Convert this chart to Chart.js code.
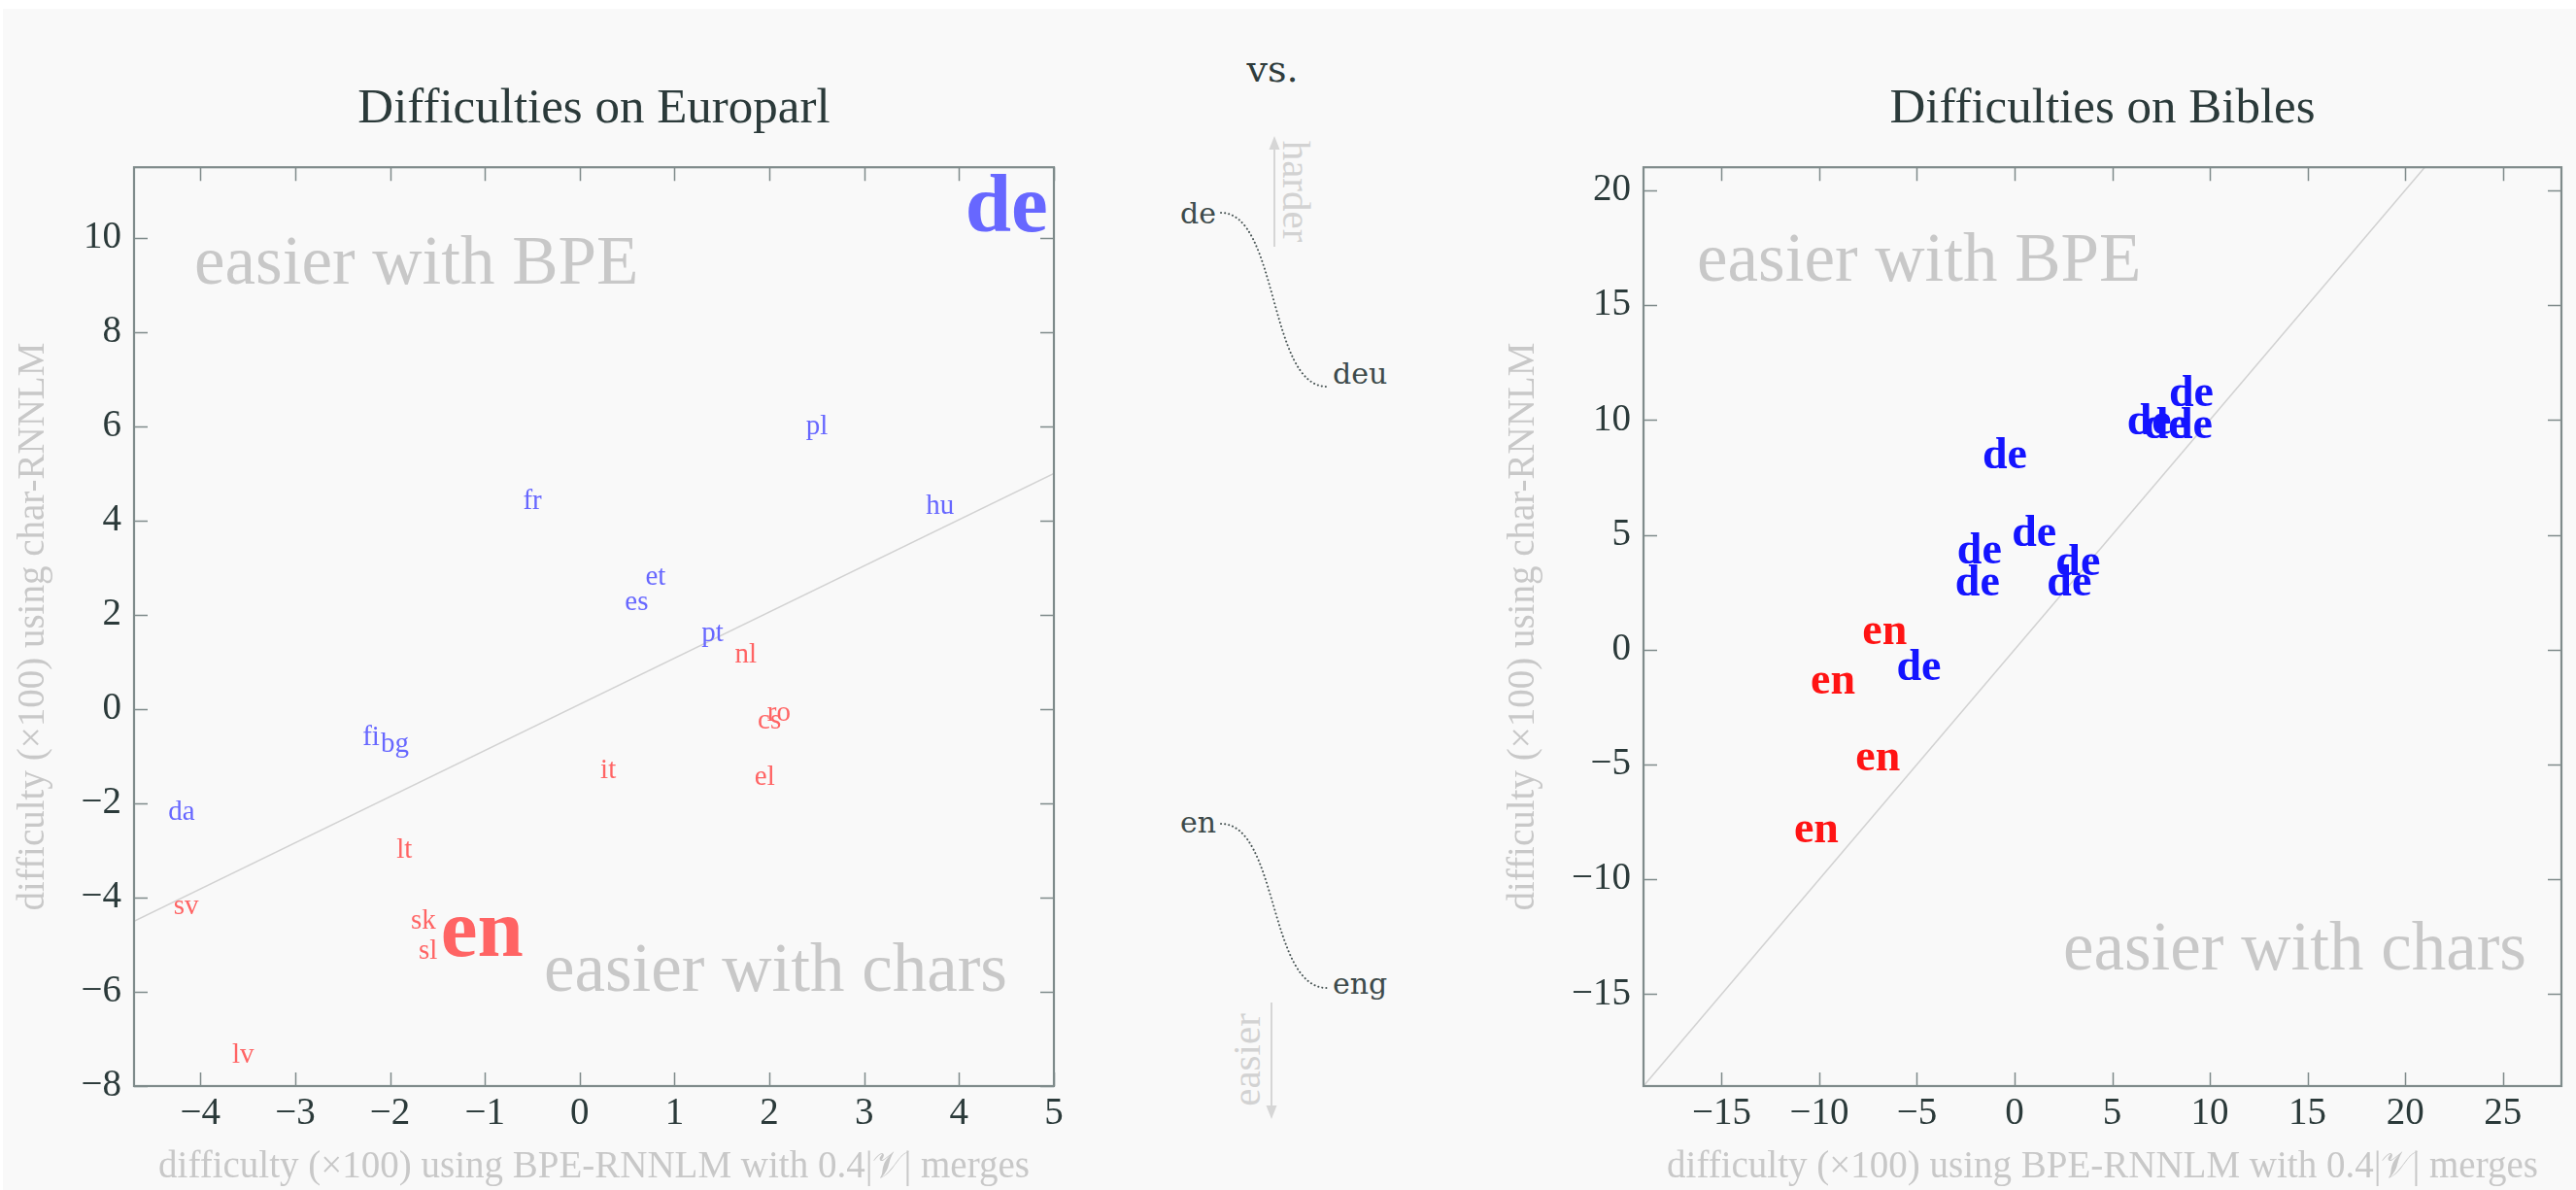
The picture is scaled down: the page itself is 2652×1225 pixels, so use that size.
<!DOCTYPE html>
<html>
<head>
<meta charset="utf-8">
<script src="https://cdn.jsdelivr.net/npm/chart.js@4.4.0/dist/chart.umd.min.js"></script>
<style>
  html, body { margin: 0; padding: 0; background: #fff; }
  body { width: 2652px; height: 1225px; position: relative; overflow: hidden; }
  #bg { position: absolute; left: 3px; top: 9px; right: 0; bottom: 0; background: #f9f9f9; }
  #leftWrap { position: absolute; left: 0; top: 0; width: 1130px; height: 1225px; }
  #rightWrap { position: absolute; left: 1534px; top: 0; width: 1118px; height: 1225px; }
  #mid { position: absolute; left: 1130px; top: 0; }
</style>
</head>
<body>
<div id="bg"></div>
<div id="leftWrap"><canvas id="europarl" width="1130" height="1225"></canvas></div>
<svg id="mid" width="404" height="1225" viewBox="1130 0 404 1225">
  <text x="1310" y="84" text-anchor="middle" font-family="DejaVu Serif" font-size="38" fill="#2f3c3c">vs.</text>
  <!-- harder arrow -->
  <line x1="1312" y1="254" x2="1312" y2="152" stroke="#d6d6d6" stroke-width="2"/>
  <polygon points="1312,140 1306.5,154 1317.5,154" fill="#d6d6d6"/>
  <text transform="translate(1335,197) rotate(90)" text-anchor="middle" dominant-baseline="central" font-family="Liberation Serif" font-size="41" fill="#d2d2d2">harder</text>
  <!-- easier arrow -->
  <line x1="1309" y1="1032" x2="1309" y2="1140" stroke="#d6d6d6" stroke-width="2"/>
  <polygon points="1309,1152 1303.5,1138 1314.5,1138" fill="#d6d6d6"/>
  <text transform="translate(1283,1091) rotate(-90)" text-anchor="middle" dominant-baseline="central" font-family="Liberation Serif" font-size="41" fill="#d2d2d2">easier</text>
  <!-- de / deu -->
  <text x="1252" y="230" text-anchor="end" font-family="DejaVu Serif" font-size="30" fill="#3d4a4a">de</text>
  <path d="M1257,219 C1316,219 1306,398 1366,398" fill="none" stroke="#4a5656" stroke-width="2" stroke-dasharray="0.1 4" stroke-linecap="round"/>
  <text x="1372" y="395" font-family="DejaVu Serif" font-size="30" fill="#3d4a4a">deu</text>
  <!-- en / eng -->
  <text x="1252" y="857" text-anchor="end" font-family="DejaVu Serif" font-size="30" fill="#3d4a4a">en</text>
  <path d="M1257,848 C1316,848 1306,1017 1366,1017" fill="none" stroke="#4a5656" stroke-width="2" stroke-dasharray="0.1 4" stroke-linecap="round"/>
  <text x="1372" y="1023" font-family="DejaVu Serif" font-size="30" fill="#3d4a4a">eng</text>
</svg>
<div id="rightWrap"><canvas id="bibles" width="1118" height="1225"></canvas></div>

<script>
// ---- Europarl: difficulty (x100) per language ----
const europarlLangs = ['de', 'pl', 'hu', 'fr', 'et', 'es', 'pt', 'nl', 'ro', 'cs', 'fi', 'bg', 'it', 'el', 'da', 'lt', 'sv', 'sk', 'sl', 'en', 'lv'];
const europarlBpe   = [4.5, 2.5, 3.8, -0.5, 0.8, 0.6, 1.4, 1.75, 2.1, 2.0, -2.2, -1.95, 0.3, 1.95, -4.2, -1.85, -4.15, -1.65, -1.6, -1.03, -3.55];
const europarlChar  = [10.6, 6.0, 4.3, 4.4, 2.8, 2.25, 1.6, 1.15, -0.1, -0.25, -0.6, -0.75, -1.3, -1.45, -2.2, -3.0, -4.2, -4.5, -5.15, -4.78, -7.35];
const highlighted   = ['de', 'en'];
// reference line drawn across the Europarl panel
const europarlLineBpe  = [-4.7, 5];
const europarlLineChar = [-4.5, 5];

// ---- Bibles: several translations each ----
const bibleLangs = ['de', 'de', 'de', 'de', 'de', 'de', 'de', 'de', 'de', 'de', 'de', 'en', 'en', 'en', 'en'];
const bibleBpe   = [9.05, 6.9, 7.75, 9.0, -0.5, 1.0, -1.8, 3.25, -1.9, 2.8, -4.9, -6.65, -9.3, -7.0, -10.15];
const bibleChar  = [11.1, 9.9, 9.7, 9.7, 8.4, 5.0, 4.25, 3.75, 2.85, 2.85, -0.8, 0.75, -1.4, -4.75, -7.9];
const bibleLineBpe  = [-19, 21];
const bibleLineChar = [-19, 21];

// ---- axes ----
const europarlXTicks = [-4, -3, -2, -1, 0, 1, 2, 3, 4, 5];
const europarlYTicks = [-8, -6, -4, -2, 0, 2, 4, 6, 8, 10];
const bibleXTicks = [-15, -10, -5, 0, 5, 10, 15, 20, 25];
const bibleYTicks = [-15, -10, -5, 0, 5, 10, 15, 20];

const xTitle = 'difficulty (\u00d7100) using BPE-RNNLM with 0.4|\ud835\udcb1| merges';
const yTitle = 'difficulty (\u00d7100) using char-RNNLM';

const SERIF = '"Liberation Serif", serif';
const DARK = '#2b3a3a';
const PALE = '#c8c8c8';

const fmt = v => String(v).replace('-', '\u2212');

// draws each point's word at its position
const textMarks = {
    id: 'textMarks',
    afterDatasetsDraw(chart) {
        const ctx = chart.ctx;
        chart.data.datasets.forEach((ds, di) => {
            if (!ds.words) return;
            const meta = chart.getDatasetMeta(di);
            ctx.save();
            ctx.font = ds.wordFont;
            ctx.fillStyle = ds.wordColor;
            ctx.textAlign = 'center';
            ctx.textBaseline = 'middle';
            meta.data.forEach((pt, i) => ctx.fillText(ds.words[i], pt.x, pt.y));
            ctx.restore();
        });
    }
};

// box around the plot with inward ticks on every side
const frame = {
    id: 'frame',
    afterDraw(chart) {
        const { ctx, chartArea: a, scales: { x, y } } = chart;
        const L = 14;
        ctx.save();
        ctx.strokeStyle = '#7f8b8b';
        ctx.lineWidth = 1.5;
        ctx.beginPath();
        x.ticks.forEach(t => {
            const px = Math.round(x.getPixelForValue(t.value)) + 0.5;
            ctx.moveTo(px, a.bottom); ctx.lineTo(px, a.bottom - L);
            ctx.moveTo(px, a.top); ctx.lineTo(px, a.top + L);
        });
        y.ticks.forEach(t => {
            const py = Math.round(y.getPixelForValue(t.value)) + 0.5;
            ctx.moveTo(a.left, py); ctx.lineTo(a.left + L, py);
            ctx.moveTo(a.right, py); ctx.lineTo(a.right - L, py);
        });
        ctx.stroke();
        ctx.lineWidth = 2.2;
        ctx.strokeRect(a.left, a.top, a.right - a.left, a.bottom - a.top);
        ctx.restore();
    }
};

// the two pale region notes
const regionText = {
    id: 'regionText',
    beforeDatasetsDraw(chart, args, o) {
        if (!o.bpe) return;
        const { ctx, chartArea: a } = chart;
        ctx.save();
        ctx.font = '71px ' + SERIF;
        ctx.fillStyle = PALE;
        ctx.textBaseline = 'alphabetic';
        ctx.textAlign = 'left';
        ctx.fillText('easier with BPE', a.left + o.bpe[0], a.top + o.bpe[1]);
        ctx.textAlign = 'right';
        ctx.fillText('easier with chars', a.right - o.chars[0], a.bottom - o.chars[1]);
        ctx.restore();
    }
};

function pick(langs, xs, ys, keep) {
    const words = [], data = [];
    langs.forEach((l, i) => {
        if (keep(l, xs[i], ys[i])) { words.push(l); data.push({ x: xs[i], y: ys[i] }); }
    });
    return { words, data };
}

function wordSet(sel, color, font) {
    return { data: sel.data, words: sel.words, wordColor: color, wordFont: font, pointRadius: 0, showLine: false };
}

function lineSet(xs, ys) {
    return {
        data: xs.map((v, i) => ({ x: v, y: ys[i] })),
        showLine: true, borderColor: '#d2d2d2', borderWidth: 1.5, pointRadius: 0
    };
}

function makeOptions(cfg) {
    return {
        responsive: false,
        animation: false,
        events: [],
        layout: { padding: { left: 0, right: cfg.padRight, top: 0, bottom: 0 } },
        plugins: {
            legend: { display: false },
            tooltip: { enabled: false },
            title: {
                display: true, text: cfg.title, fullSize: false,
                color: DARK, font: { family: SERIF, size: 51, weight: 'normal' },
                padding: { top: 82, bottom: 29 }
            },
            regionText: { bpe: cfg.bpe, chars: cfg.chars }
        },
        scales: {
            x: {
                type: 'linear', min: cfg.xRange[0], max: cfg.xRange[1],
                grid: { display: false, drawTicks: false },
                border: { display: false },
                afterBuildTicks: s => { s.ticks = cfg.xTicks.map(v => ({ value: v })); },
                afterFit: s => { s.height = 107; },
                ticks: { font: { family: SERIF, size: 39 }, color: DARK, padding: 5, maxRotation: 0, autoSkip: false, callback: fmt },
                title: { display: true, text: xTitle, color: PALE, font: { family: SERIF, size: 39 }, padding: { top: 0, bottom: 0 } }
            },
            y: {
                type: 'linear', min: cfg.yRange[0], max: cfg.yRange[1],
                grid: { display: false, drawTicks: false },
                border: { display: false },
                afterBuildTicks: s => { s.ticks = cfg.yTicks.map(v => ({ value: v })); },
                afterFit: s => { s.width = cfg.yWidth; },
                ticks: { font: { family: SERIF, size: 39 }, color: DARK, padding: 13, autoSkip: false, callback: fmt },
                title: { display: true, text: yTitle, color: PALE, font: { family: SERIF, size: 39 }, padding: { top: cfg.yTitlePad, bottom: 0 } }
            }
        }
    };
}

// ---- Europarl chart ----
const small = '29px ' + SERIF, big = 'bold 85px ' + SERIF;
const above = (l, x, y) => y > x;
new Chart(document.getElementById('europarl'), {
    type: 'scatter',
    data: {
        datasets: [
            lineSet(europarlLineBpe, europarlLineChar),
            wordSet(pick(europarlLangs, europarlBpe, europarlChar, (l, x, y) => above(l, x, y) && !highlighted.includes(l)), '#6767ff', small),
            wordSet(pick(europarlLangs, europarlBpe, europarlChar, (l, x, y) => !above(l, x, y) && !highlighted.includes(l)), '#ff6464', small),
            wordSet(pick(europarlLangs, europarlBpe, europarlChar, (l, x, y) => above(l, x, y) && highlighted.includes(l)), '#6767ff', big),
            wordSet(pick(europarlLangs, europarlBpe, europarlChar, (l, x, y) => !above(l, x, y) && highlighted.includes(l)), '#ff6464', big)
        ]
    },
    options: makeOptions({
        title: 'Difficulties on Europarl', padRight: 45, yWidth: 138, yTitlePad: 11,
        xRange: [-4.7, 5], yRange: [-8, 11.5], xTicks: europarlXTicks, yTicks: europarlYTicks,
        bpe: [62, 120], chars: [48, 98]
    }),
    plugins: [regionText, textMarks, frame]
});

// ---- Bibles chart ----
const bibleFont = 'bold 46px ' + SERIF;
new Chart(document.getElementById('bibles'), {
    type: 'scatter',
    data: {
        datasets: [
            lineSet(bibleLineBpe, bibleLineChar),
            wordSet(pick(bibleLangs, bibleBpe, bibleChar, l => l === 'de'), '#1414ff', bibleFont),
            wordSet(pick(bibleLangs, bibleBpe, bibleChar, l => l === 'en'), '#ff1414', bibleFont)
        ]
    },
    options: makeOptions({
        title: 'Difficulties on Bibles', padRight: 15, yWidth: 158, yTitlePad: 11,
        xRange: [-19, 28], yRange: [-19, 21], xTicks: bibleXTicks, yTicks: bibleYTicks,
        bpe: [55, 117], chars: [36, 120]
    }),
    plugins: [regionText, textMarks, frame]
});
</script>
</body>
</html>
